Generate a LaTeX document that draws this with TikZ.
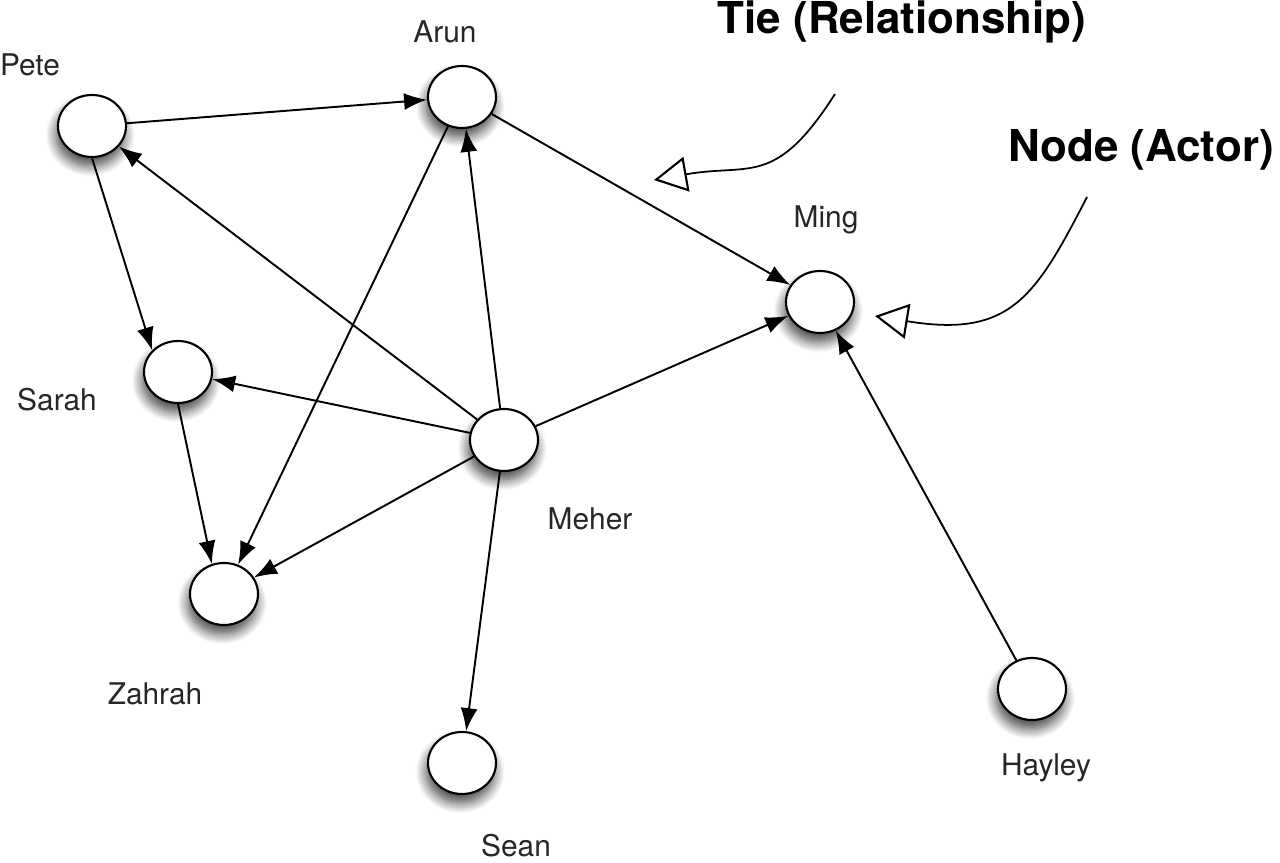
\documentclass[tikz,border=0pt]{standalone}
\usepackage{fontspec}
\setmainfont{TeX Gyre Heros}
\usepackage{tikz}
\usetikzlibrary{arrows.meta, shapes.geometric, shadows.blur}

\begin{document}
\begin{tikzpicture}[
    font=\fontsize{17}{20}\selectfont,
    actor/.style={
        ellipse, draw=black, line width=1.2pt, fill=white,
        minimum width=1.36cm, minimum height=1.24cm,
        blur shadow={shadow xshift=-1pt, shadow yshift=-5pt,
                     shadow blur radius=6pt,
                     shadow blur steps=12, shadow opacity=75}
    },
    actorname/.style={inner sep=0pt, text=black!85},
    heading/.style={inner sep=0pt, font=\fontsize{25}{28}\selectfont\bfseries},
    tie/.style={line width=1.1pt, -{Latex[length=0.46cm, width=0.34cm]}},
    pointer/.style={line width=1pt, -{Triangle[open, length=0.66cm, width=0.7cm, line width=1.2pt]}}
]
\useasboundingbox (0,0) rectangle (25.6,17.26);

% actors
\node (pete)   [actor] at (1.84,14.74) {};
\node (arun)   [actor] at (9.24,15.32) {};
\node (ming)   [actor] at (16.40,11.22) {};
\node (sarah)  [actor] at (3.56,9.82) {};
\node (meher)  [actor] at (10.08,8.46) {};
\node (zahrah) [actor] at (4.48,5.38) {};
\node (sean)   [actor] at (9.24,2.00) {};
\node (hayley) [actor] at (20.64,3.48) {};

% names
\node (lpete)   [actorname] at (0.60,15.96) {Pete};
\node (larun)   [actorname] at (8.90,16.62) {Arun};
\node (lming)   [actorname] at (16.52,12.86) {Ming};
\node (lsarah)  [actorname] at (1.14,9.26) {Sarah};
\node (lmeher)  [actorname] at (11.80,6.88) {Meher};
\node (lzahrah) [actorname] at (3.10,3.38) {Zahrah};
\node (lsean)   [actorname] at (10.32,0.34) {Sean};
\node (lhayley) [actorname] at (20.92,1.90) {Hayley};

% ties
\draw[tie] (pete) -- (arun);
\draw[tie] (pete.south) -- (sarah.140);
\draw[tie] (arun) -- (ming);
\draw[tie] (arun) -- (zahrah);
\draw[tie] (sarah.south) -- (zahrah.112);
\draw[tie] (meher) -- (pete);
\draw[tie] (meher) -- (arun);
\draw[tie] (meher) -- (sarah);
\draw[tie] (meher) -- (ming);
\draw[tie] (meher) -- (zahrah);
\draw[tie] (meher) -- (sean);
\draw[tie] (hayley) -- (ming);

% annotations
\node (ttie)  [heading] at (18.04,16.82) {Tie (Relationship)};
\node (tnode) [heading] at (22.82,14.26) {Node (Actor)};

\coordinate (tiefrom) at (16.70,15.38);
\coordinate (tieto)   at (13.08,13.66);
\coordinate (nodefrom) at (21.74,13.32);
\coordinate (nodeto)   at (17.50,10.94);

\draw[pointer] (tiefrom) .. controls (15.5,13.5) and (15.0,14.0) .. (tieto);
\draw[pointer] (nodefrom) .. controls (20.7,11.3) and (20.2,10.5) .. (nodeto);

\end{tikzpicture}
\end{document}
